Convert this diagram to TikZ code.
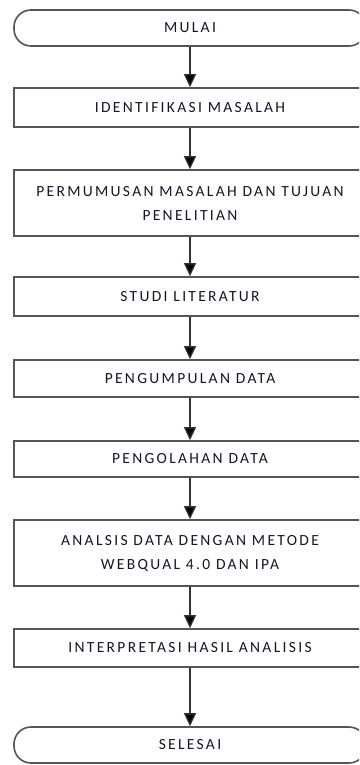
\documentclass[tikz,border=0pt]{standalone}
\usepackage{fontspec}
\setmainfont{Carlito}[LetterSpace=15]
\usetikzlibrary{arrows.meta}
\definecolor{edge}{HTML}{555555}
\definecolor{txt}{HTML}{14142A}
\begin{document}
\begin{tikzpicture}[x=1pt,y=1pt,
  box/.style={draw=edge, line width=1.6pt, minimum width=352pt, inner sep=0pt,
    align=center, text=txt, font=\fontsize{15.5}{24}\selectfont},
  term/.style={box, rounded corners=17pt},
  flow/.style={draw=black!80, line width=1.3pt, -{Triangle[length=13pt,width=12pt,fill=black]}}]
\useasboundingbox (0,0) rectangle (359,-765);
\begin{scope}
\clip (0,0) rectangle (359,-765);
\node[term, minimum height=36pt] (mulai) at (190,-28) {MULAI};
\node[box, minimum height=39pt] (id) at (190,-107.5) {IDENTIFIKASI MASALAH};
\node[box, minimum height=66pt] (perm) at (190,-203) {PERMUMUSAN MASALAH DAN TUJUAN\\PENELITIAN};
\node[box, minimum height=39pt] (studi) at (190,-296.5) {STUDI LITERATUR};
\node[box, minimum height=37pt] (peng) at (190,-378.5) {PENGUMPULAN DATA};
\node[box, minimum height=36pt] (olah) at (190,-459) {PENGOLAHAN DATA};
\node[box, minimum height=66pt] (anal) at (190,-553) {ANALSIS DATA DENGAN METODE\\WEBQUAL 4.0 DAN IPA};
\node[box, minimum height=38pt] (interp) at (190,-648) {INTERPRETASI HASIL ANALISIS};
\node[term, minimum height=36pt] (selesai) at (190,-745) {SELESAI};
\draw[flow] (mulai) -- (id);
\draw[flow] (id) -- (perm);
\draw[flow] (perm) -- (studi);
\draw[flow] (studi) -- (peng);
\draw[flow] (peng) -- (olah);
\draw[flow] (olah) -- (anal);
\draw[flow] (anal) -- (interp);
\draw[flow] (interp) -- (selesai);
\end{scope}
\end{tikzpicture}
\end{document}
